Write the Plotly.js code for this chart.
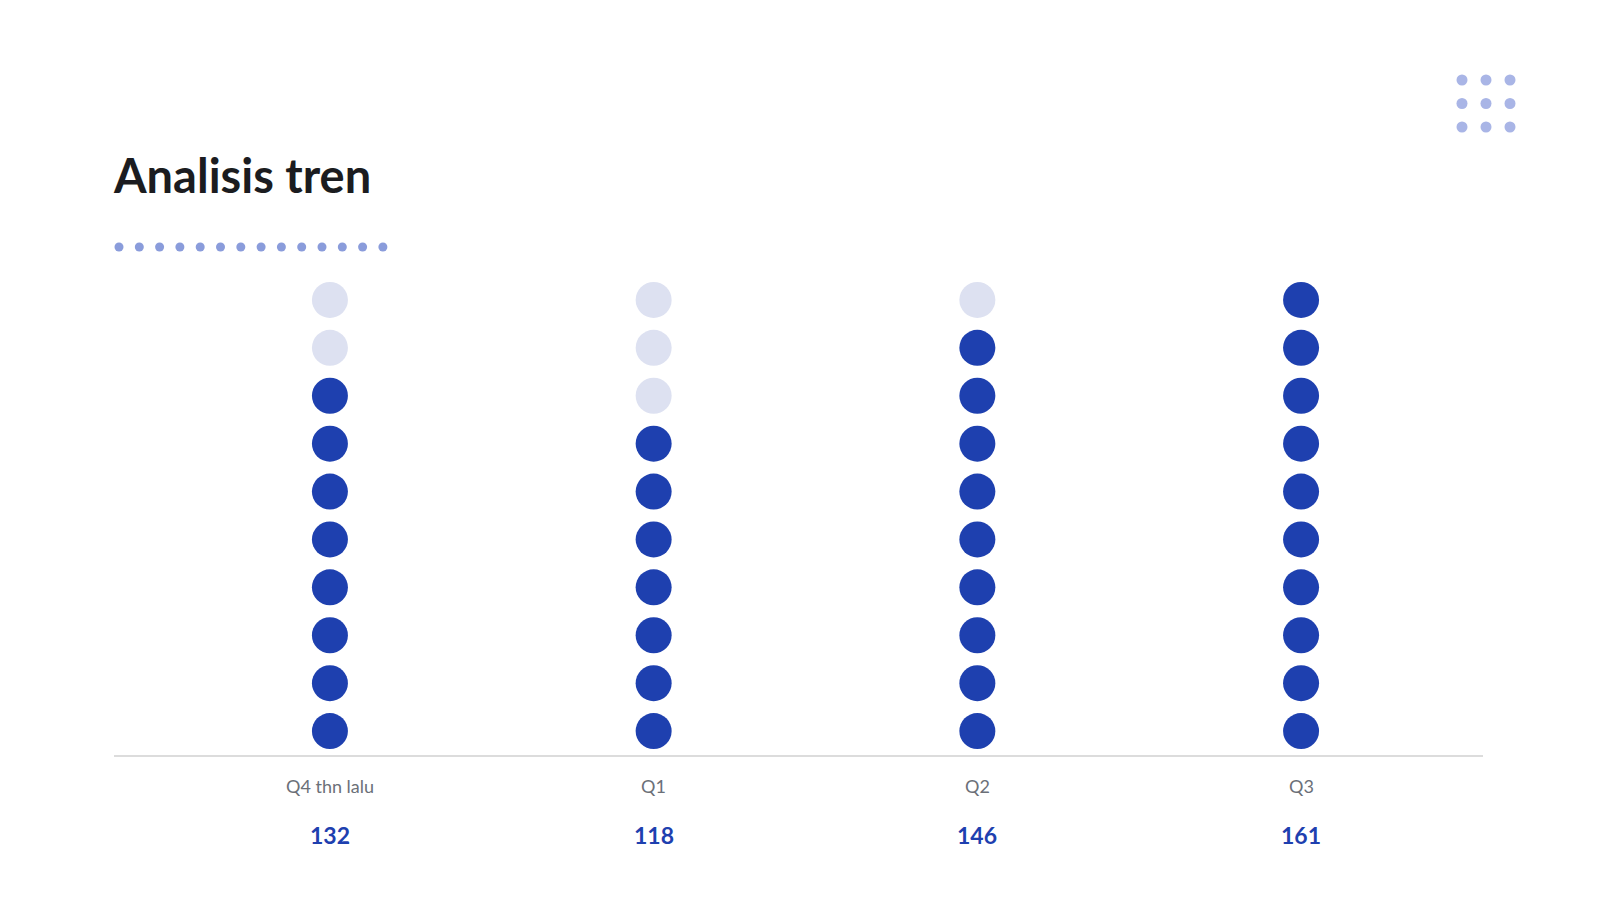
<!DOCTYPE html>
<html>
<head>
<meta charset="utf-8">
<script src="https://cdn.plot.ly/plotly-3.0.1.min.js"></script>
<style>
  html, body { margin: 0; padding: 0; background: #ffffff; }
  #chart { width: 1598px; height: 900px; }
</style>
</head>
<body>
<div id="chart"></div>
<script>
// ---- data ----
const categories = ["Q4 thn lalu", "Q1", "Q2", "Q3"];
const values = [132, 118, 146, 161];
const dotsPerColumn = 10;
const chartTitle = "Analisis tren";

// ---- styles ----
const FILLED = "#1e40af";
const EMPTY = "#dde1f1";
const FONT = "Lato, 'Noto Sans', sans-serif";

const maxVal = Math.max(...values);
const xs = [], ys = [], cols = [];
categories.forEach((c, i) => {
  const filled = Math.round(values[i] / maxVal * dotsPerColumn);
  for (let r = 0; r < dotsPerColumn; r++) {
    xs.push(i);
    ys.push(r);
    cols.push(r < filled ? FILLED : EMPTY);
  }
});

const trace = {
  type: "scatter",
  mode: "markers",
  x: xs,
  y: ys,
  marker: { size: 36, color: cols, line: { width: 0 } },
  hoverinfo: "skip",
  showlegend: false
};

const annotations = [];
categories.forEach((c, i) => {
  annotations.push({
    x: i, xref: "x", y: 0, yref: "paper",
    yanchor: "middle", xanchor: "center", yshift: -31,
    text: c, showarrow: false,
    font: { family: FONT, size: 18, color: "#6b7078" }
  });
  annotations.push({
    x: i, xref: "x", y: 0, yref: "paper",
    yanchor: "middle", xanchor: "center", yshift: -80,
    text: "<b>" + values[i] + "</b>", showarrow: false,
    font: { family: FONT, size: 23, color: FILLED }
  });
});

// decorative dots (plot area: x 114..1483, y 276..755 px)
const L = 114, W = 1369, B = 755, H = 479;
const px2x = p => (p - L) / W;
const py2y = p => (B - p) / H;
const shapes = [];
function dot(px, py, d, color) {
  shapes.push({
    type: "circle", xref: "paper", yref: "paper",
    xsizemode: "pixel", ysizemode: "pixel",
    xanchor: px2x(px), yanchor: py2y(py),
    x0: -d / 2, x1: d / 2, y0: -d / 2, y1: d / 2,
    fillcolor: color, line: { width: 0 }, layer: "above"
  });
}
for (let k = 0; k < 14; k++) dot(119 + k * 20.3, 247, 9, "#8a9cdb");
for (let r = 0; r < 3; r++)
  for (let c = 0; c < 3; c++)
    dot(1462 + c * 24, 80 + r * 23.5, 11, "#a9b5e6");

const layout = {
  width: 1598, height: 900,
  paper_bgcolor: "#ffffff", plot_bgcolor: "#ffffff",
  margin: { l: 114, r: 115, t: 276, b: 145, pad: 0 },
  title: {
    text: "<b>" + chartTitle + "</b>",
    x: 114 / 1598, xanchor: "left", xref: "container",
    y: 1 - 177 / 900, yanchor: "middle", yref: "container",
    font: { family: FONT, size: 47, color: "#1b1c20" }
  },
  xaxis: {
    range: [-0.667, 3.562],
    showgrid: false, zeroline: false,
    showline: true, linecolor: "#dcdcdc", linewidth: 1.5,
    showticklabels: false, ticks: "", fixedrange: true
  },
  yaxis: {
    range: [-0.5, 9.5],
    showgrid: false, zeroline: false, showline: false,
    showticklabels: false, ticks: "", fixedrange: true
  },
  annotations: annotations,
  shapes: shapes,
  font: { family: FONT }
};

Plotly.newPlot("chart", [trace], layout, { displayModeBar: false, staticPlot: true });
</script>
</body>
</html>
